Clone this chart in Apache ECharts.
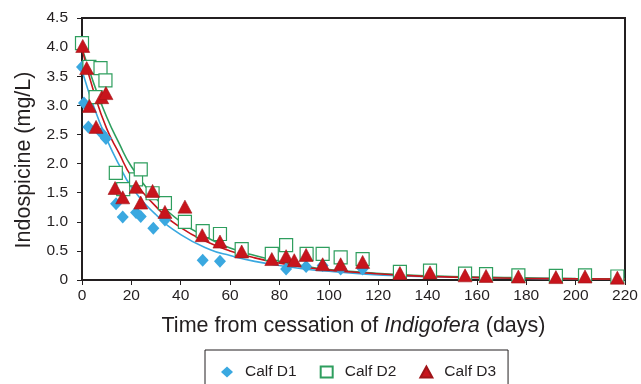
<!DOCTYPE html>
<html><head><meta charset="utf-8">
<script src="https://cdn.jsdelivr.net/npm/echarts@6/dist/echarts.min.js"></script>
<style>html,body{margin:0;padding:0;background:#fff}#c{width:641px;height:384px}</style>
</head><body><div id="c"></div>
<script>
// Scatter data (days, mg/L)
var d1Days = [0, 0.8, 2.6, 8, 9.7, 13.8, 16.5, 21.9, 23.8, 28.9, 33.6, 48.9, 55.9, 82.7, 90.8, 97.5, 104.8, 113.7];
var d1Vals = [3.66, 3.04, 2.63, 2.52, 2.43, 1.31, 1.08, 1.16, 1.09, 0.89, 1.03, 0.34, 0.32, 0.19, 0.23, 0.25, 0.19, 0.19];

var d2Days = [0, 3, 5.5, 7.5, 9.5, 13.7, 16.7, 21.9, 23.8, 28.6, 33.6, 41.7, 48.9, 55.9, 64.7, 76.9, 82.7, 91, 97.5, 104.8, 113.7, 128.8, 141, 155.2, 163.7, 176.8, 192, 203.8, 216.9];
var d2Vals = [4.07, 3.66, 3.14, 3.64, 3.43, 1.84, 1.56, 1.73, 1.90, 1.49, 1.32, 1.00, 0.84, 0.79, 0.53, 0.45, 0.60, 0.45, 0.45, 0.39, 0.36, 0.14, 0.16, 0.11, 0.10, 0.08, 0.07, 0.08, 0.06];

var d3Days = [0.3, 1.9, 3, 5.7, 8, 9.7, 13.4, 16.5, 21.9, 23.8, 28.6, 33.6, 41.7, 48.7, 55.9, 64.7, 76.9, 82.7, 86, 90.8, 97.5, 104.8, 113.7, 128.8, 141, 155.2, 163.7, 176.8, 192, 203.8, 216.9];
var d3Vals = [4.02, 3.64, 2.99, 2.63, 3.14, 3.21, 1.58, 1.42, 1.60, 1.33, 1.53, 1.17, 1.26, 0.77, 0.66, 0.49, 0.36, 0.41, 0.34, 0.43, 0.27, 0.27, 0.31, 0.12, 0.13, 0.08, 0.07, 0.06, 0.05, 0.06, 0.04];

// Fitted curves, values
var fitDays = [0, 5, 10, 15, 20, 30, 40, 52, 60, 70, 80, 90, 100, 115, 130, 150, 175, 200, 220];
var fitD1 = [3.60, 2.95, 2.42, 1.98, 1.60, 1.12, 0.78, 0.52, 0.42, 0.32, 0.25, 0.19, 0.15, 0.10, 0.07, 0.05, 0.03, 0.02, 0.015];
var fitD2 = [3.98, 3.35, 2.80, 2.35, 1.95, 1.40, 1.00, 0.70, 0.55, 0.42, 0.32, 0.24, 0.18, 0.13, 0.09, 0.06, 0.04, 0.025, 0.02];
var fitD3 = [3.97, 3.20, 2.60, 2.18, 1.78, 1.26, 0.90, 0.63, 0.50, 0.38, 0.29, 0.22, 0.17, 0.12, 0.08, 0.05, 0.03, 0.02, 0.015];

var yTicks = [0, 0.5, 1.0, 1.5, 2.0, 2.5, 3.0, 3.5, 4.0, 4.5];
var xTicks = [0, 20, 40, 60, 80, 100, 120, 140, 160, 180, 200, 220];
var seriesNames = ['Calf D1', 'Calf D2', 'Calf D3'];

function zip(a, b) { return a.map(function (v, i) { return [v, b[i]]; }); }

var cBlue = '#3aa8e0', cGreen = '#2e9e5e', cRed = '#c8141c';
var font = 'Liberation Sans, Arial, Helvetica, sans-serif';

var chart = echarts.init(document.getElementById('c'), null, { renderer: 'canvas' });
chart.setOption({
  animation: false,
  backgroundColor: '#fff',
  grid: { left: 82, right: 16, top: 18, bottom: 104, show: true, borderColor: '#231f20', borderWidth: 2 },
  xAxis: {
    type: 'value', min: xTicks[0], max: xTicks[xTicks.length - 1], interval: 20,
    name: '{n|Time from cessation of }{i|Indigofera}{n| (days)}',
    nameLocation: 'middle', nameGap: 35,
    nameTextStyle: { rich: {
      n: { fontSize: 21.5, color: '#231f20', fontFamily: font },
      i: { fontSize: 21.5, color: '#231f20', fontFamily: font, fontStyle: 'italic' } } },
    axisLine: { lineStyle: { color: '#231f20', width: 2 } },
    axisTick: { show: true, length: 5, lineStyle: { color: '#231f20', width: 1 } },
    axisLabel: { color: '#231f20', fontSize: 15.5, fontFamily: font, margin: 8 },
    splitLine: { show: false }
  },
  yAxis: {
    type: 'value', min: yTicks[0], max: yTicks[yTicks.length - 1], interval: 0.5,
    name: 'Indospicine (mg/L)', nameLocation: 'middle', nameGap: 47, nameRotate: 90,
    nameTextStyle: { fontSize: 21.5, color: '#231f20', fontFamily: font, padding: [0, 22, 0, 0] },
    axisLine: { show: true, lineStyle: { color: '#231f20', width: 2 } },
    axisTick: { show: true, length: 5, lineStyle: { color: '#231f20', width: 1 } },
    axisLabel: { color: '#231f20', fontSize: 15.5, fontFamily: font, margin: 14,
      formatter: function (v) { return v === 0 ? '0' : v.toFixed(1); } },
    splitLine: { show: false }
  },
  legend: {
    left: 205, top: 350,
    orient: 'horizontal', itemGap: 23, itemWidth: 12, itemHeight: 11,
    padding: [14, 12, 20, 16],
    borderColor: '#231f20', borderWidth: 1,
    textStyle: { fontSize: 15.5, color: '#231f20', fontFamily: font, padding: [0, 0, 0, 7] },
    data: seriesNames
  },
  series: [
    { name: 'fitD1', type: 'line', data: zip(fitDays, fitD1), smooth: 0.5, showSymbol: false, symbol: 'none',
      lineStyle: { color: cBlue, width: 1.6 }, z: 1, silent: true },
    { name: 'fitD2', type: 'line', data: zip(fitDays, fitD2), smooth: 0.5, showSymbol: false, symbol: 'none',
      lineStyle: { color: cGreen, width: 1.6 }, z: 1, silent: true },
    { name: 'fitD3', type: 'line', data: zip(fitDays, fitD3), smooth: 0.5, showSymbol: false, symbol: 'none',
      lineStyle: { color: cRed, width: 1.6 }, z: 1, silent: true },
    { name: seriesNames[0], type: 'scatter', data: zip(d1Days, d1Vals), symbol: 'diamond', symbolSize: [12, 13],
      itemStyle: { color: cBlue, opacity: 1 }, z: 3 },
    { name: seriesNames[1], type: 'scatter', data: zip(d2Days, d2Vals), symbol: 'rect', symbolSize: 13,
      itemStyle: { color: '#fff', borderColor: cGreen, borderWidth: 1.2, opacity: 1 }, z: 4 },
    { name: seriesNames[2], type: 'scatter', data: zip(d3Days, d3Vals), symbol: 'triangle', symbolSize: [14, 13],
      itemStyle: { color: cRed, borderColor: '#a01418', borderWidth: 0.6, opacity: 1 }, z: 5 }
  ]
});
</script>
</body></html>
